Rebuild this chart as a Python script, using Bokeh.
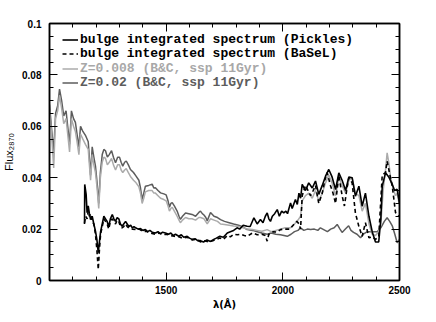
from bokeh.plotting import figure
from bokeh.models import (FixedTicker, LinearAxis, Legend, LegendItem, Range1d,
                          NumeralTickFormatter)
from bokeh.embed import file_html
from bokeh.resources import INLINE

# ---------------- data ----------------
lam_z02 = [1000, 1008, 1018, 1026, 1035, 1043, 1052, 1061, 1071, 1078, 1086, 1094, 1103, 1111,
           1118, 1126, 1133, 1143, 1154, 1166, 1176, 1183, 1190, 1197, 1204, 1211, 1218, 1226,
           1233, 1240, 1248, 1256, 1266, 1274, 1283, 1292, 1300, 1307, 1314, 1322, 1329, 1338,
           1347, 1360, 1371, 1383, 1390, 1397, 1404, 1411, 1425, 1440, 1447, 1454, 1465, 1476,
           1490, 1500, 1508, 1514, 1520, 1526, 1535, 1547, 1555, 1561, 1570, 1583, 1597, 1611,
           1626, 1640, 1647, 1655, 1662, 1670, 1676, 1690, 1705, 1720, 1733, 1750, 1770, 1789,
           1810, 1830, 1847, 1870, 1890, 1910, 1933, 1950, 1970, 1990, 2005, 2019, 2035, 2050,
           2065, 2076, 2090, 2105, 2119, 2135, 2150, 2161, 2175, 2191, 2205, 2220, 2233, 2245,
           2254, 2268, 2282, 2292, 2303, 2318, 2333, 2345, 2362, 2380, 2395, 2404, 2420, 2435,
           2447, 2458, 2469, 2480, 2490, 2500]
flux_z02 = [0.0685, 0.060, 0.050, 0.065, 0.068, 0.0745, 0.070, 0.064, 0.066, 0.060, 0.053, 0.066,
            0.063, 0.0615, 0.057, 0.052, 0.060, 0.058, 0.0565, 0.054, 0.041, 0.052, 0.048, 0.0445,
            0.038, 0.030, 0.042, 0.049, 0.051, 0.0505, 0.048, 0.049, 0.0505, 0.048, 0.0458, 0.048,
            0.048, 0.046, 0.0445, 0.046, 0.0465, 0.045, 0.0432, 0.042, 0.0406, 0.039, 0.036, 0.0315,
            0.034, 0.0367, 0.037, 0.0375, 0.036, 0.0361, 0.035, 0.0341, 0.0337, 0.0333, 0.031,
            0.0285, 0.030, 0.0303, 0.029, 0.027, 0.025, 0.0238, 0.025, 0.0263, 0.026, 0.0257,
            0.025, 0.0265, 0.027, 0.026, 0.0255, 0.0245, 0.0232, 0.0265, 0.025, 0.0245, 0.0237,
            0.023, 0.0225, 0.022, 0.0215, 0.0208, 0.0198, 0.0195, 0.019, 0.0185, 0.018, 0.0185,
            0.018, 0.0178, 0.0175, 0.0172, 0.018, 0.019, 0.0195, 0.0205, 0.0195, 0.020, 0.0198,
            0.020, 0.0195, 0.0205, 0.0198, 0.019, 0.020, 0.0205, 0.0218, 0.020, 0.0187, 0.020,
            0.0213, 0.0195, 0.0187, 0.018, 0.0166, 0.018, 0.019, 0.019, 0.019, 0.019, 0.0205,
            0.023, 0.0244, 0.023, 0.0213, 0.018, 0.0147, 0.016]

lam_z008 = [1000, 1008, 1018, 1026, 1035, 1043, 1052, 1061, 1071, 1078, 1086, 1094, 1103, 1111,
            1118, 1126, 1133, 1143, 1154, 1166, 1176, 1183, 1190, 1197, 1204, 1211, 1218, 1226,
            1233, 1240, 1248, 1256, 1266, 1274, 1283, 1292, 1300, 1307, 1314, 1322, 1329, 1338,
            1347, 1360, 1371, 1383, 1390, 1397, 1404, 1411, 1425, 1440, 1447, 1454, 1465, 1476,
            1490, 1500, 1508, 1514, 1520, 1526, 1535, 1547, 1555, 1561, 1570, 1583, 1597, 1611,
            1626, 1640, 1647, 1662, 1676, 1690, 1705, 1720, 1733, 1750, 1770, 1789, 1810, 1830,
            1847, 1870, 1890, 1910, 1933, 1950, 1970, 1990, 2010, 2033, 2050, 2065, 2076, 2083,
            2097, 2111, 2126, 2140, 2154, 2169, 2183, 2197, 2211, 2226, 2240, 2254, 2269, 2283,
            2297, 2311, 2326, 2340, 2354, 2369, 2383, 2397, 2411, 2420, 2430, 2440, 2447, 2454,
            2462, 2472, 2483, 2490, 2500]
flux_z008 = [0.066, 0.058, 0.0438, 0.063, 0.066, 0.072, 0.067, 0.061, 0.063, 0.057, 0.050, 0.063,
             0.060, 0.058, 0.054, 0.049, 0.057, 0.055, 0.053, 0.051, 0.039, 0.049, 0.045, 0.042,
             0.036, 0.028, 0.040, 0.046, 0.048, 0.0475, 0.045, 0.046, 0.0475, 0.045, 0.043, 0.045,
             0.045, 0.043, 0.042, 0.043, 0.0435, 0.042, 0.0405, 0.039, 0.038, 0.0365, 0.034, 0.030,
             0.032, 0.0345, 0.035, 0.035, 0.034, 0.034, 0.033, 0.032, 0.0315, 0.031, 0.029, 0.027,
             0.028, 0.0285, 0.027, 0.025, 0.0235, 0.0225, 0.0235, 0.0245, 0.024, 0.024, 0.0235,
             0.0245, 0.0245, 0.024, 0.022, 0.024, 0.0235, 0.023, 0.022, 0.0218, 0.0215, 0.0212,
             0.021, 0.0205, 0.020, 0.0198, 0.0195, 0.0192, 0.0198, 0.019, 0.0195, 0.020, 0.0205,
             0.0205, 0.022, 0.0235, 0.025, 0.031, 0.033, 0.034, 0.032, 0.035, 0.031, 0.034, 0.038,
             0.041, 0.038, 0.033, 0.040, 0.037, 0.034, 0.039, 0.040, 0.034, 0.033, 0.027, 0.030,
             0.022, 0.018, 0.0175, 0.019, 0.022, 0.035, 0.043, 0.0497, 0.046, 0.040, 0.036, 0.033,
             0.034, 0.029]

lam_pickles = [1150, 1151, 1157, 1161, 1166, 1171, 1176, 1183, 1190, 1197, 1203, 1209, 1214, 1219,
               1226, 1233, 1240, 1247, 1254, 1261, 1269, 1276, 1283, 1290, 1297, 1304, 1311, 1318,
               1326, 1333, 1340, 1348, 1355, 1362, 1369, 1380, 1390, 1400, 1411, 1420, 1430, 1440,
               1454, 1465, 1475, 1485, 1497, 1510, 1520, 1530, 1540, 1554, 1565, 1575, 1590, 1600,
               1611, 1625, 1635, 1647, 1660, 1675, 1690, 1704, 1715, 1730, 1745, 1762, 1775, 1789,
               1804, 1815, 1830, 1847, 1860, 1876, 1890, 1904, 1915, 1925, 1933, 1940, 1947, 1955,
               1965, 1976, 1985, 1995, 2004, 2013, 2020, 2033, 2040, 2054, 2062, 2069, 2076, 2083,
               2097, 2111, 2126, 2140, 2154, 2169, 2183, 2197, 2211, 2226, 2240, 2254, 2269, 2283,
               2297, 2311, 2326, 2340, 2354, 2369, 2383, 2397, 2411, 2420, 2426, 2440, 2454, 2469,
               2479, 2490, 2500]
flux_pickles = [0.022, 0.0374, 0.0335, 0.0264, 0.029, 0.026, 0.0237, 0.025, 0.022, 0.0192, 0.016,
                0.0108, 0.015, 0.019, 0.022, 0.025, 0.024, 0.023, 0.021, 0.024, 0.0257, 0.024,
                0.023, 0.0245, 0.024, 0.022, 0.0211, 0.022, 0.023, 0.022, 0.021, 0.0215, 0.0205,
                0.021, 0.0205, 0.020, 0.0202, 0.0195, 0.0198, 0.019, 0.0195, 0.0188, 0.0185, 0.019,
                0.0182, 0.0188, 0.0185, 0.018, 0.0185, 0.0175, 0.018, 0.0172, 0.0178, 0.0168, 0.0172,
                0.0165, 0.016, 0.0162, 0.0155, 0.0155, 0.015, 0.0158, 0.0152, 0.016, 0.0165, 0.0172,
                0.0168, 0.0185, 0.019, 0.0195, 0.0205, 0.020, 0.0215, 0.0211, 0.021, 0.0244, 0.022,
                0.0237, 0.0225, 0.025, 0.0263, 0.024, 0.023, 0.025, 0.026, 0.0276, 0.025, 0.027,
                0.0263, 0.027, 0.026, 0.0302, 0.028, 0.0315, 0.0296, 0.034, 0.032, 0.0374, 0.035,
                0.038, 0.036, 0.0387, 0.0335, 0.037, 0.0406, 0.0432, 0.0403, 0.0354, 0.0419, 0.039,
                0.035, 0.0403, 0.040, 0.0328, 0.0367, 0.0289, 0.034, 0.025, 0.019, 0.015, 0.015,
                0.024, 0.0367, 0.0419, 0.0403, 0.0374, 0.035, 0.0355, 0.030]

lam_basel = [1150, 1155, 1161, 1166, 1171, 1176, 1183, 1190, 1197, 1203, 1209, 1214, 1219, 1226,
             1233, 1240, 1247, 1254, 1261, 1269, 1276, 1283, 1290, 1297, 1304, 1311, 1318, 1326,
             1333, 1340, 1355, 1370, 1385, 1400, 1415, 1430, 1454, 1470, 1485, 1500, 1520, 1535,
             1554, 1570, 1590, 1611, 1630, 1647, 1665, 1680, 1700, 1715, 1730, 1745, 1762, 1775,
             1789, 1805, 1820, 1835, 1847, 1870, 1890, 1910, 1925, 1933, 1940, 1960, 1975, 1990,
             2010, 2030, 2047, 2060, 2070, 2076, 2083, 2097, 2108, 2119, 2130, 2140, 2154, 2169,
             2180, 2190, 2204, 2215, 2226, 2240, 2254, 2264, 2275, 2283, 2297, 2311, 2326, 2340,
             2354, 2369, 2383, 2397, 2411, 2426, 2440, 2447, 2459, 2469, 2483, 2497]
flux_basel = [0.0224, 0.025, 0.024, 0.027, 0.025, 0.026, 0.023, 0.022, 0.018, 0.012, 0.0043,
              0.012, 0.018, 0.021, 0.024, 0.023, 0.022, 0.020, 0.023, 0.024, 0.023, 0.022, 0.0235,
              0.023, 0.021, 0.0205, 0.021, 0.022, 0.021, 0.0205, 0.020, 0.0198, 0.020, 0.019,
              0.0192, 0.0185, 0.018, 0.0185, 0.0178, 0.018, 0.0175, 0.0172, 0.017, 0.0165, 0.0168,
              0.0158, 0.016, 0.015, 0.0155, 0.015, 0.0155, 0.016, 0.0165, 0.016, 0.0175, 0.017,
              0.018, 0.0178, 0.018, 0.0175, 0.0172, 0.0185, 0.0178, 0.018, 0.0175, 0.0153, 0.018,
              0.019, 0.0188, 0.0198, 0.020, 0.020, 0.0218, 0.023, 0.022, 0.020, 0.033, 0.037,
              0.035, 0.033, 0.035, 0.037, 0.030, 0.034, 0.039, 0.042, 0.037, 0.034, 0.030, 0.041,
              0.033, 0.029, 0.036, 0.040, 0.038, 0.0263, 0.021, 0.0172, 0.0225, 0.0166, 0.017,
              0.016, 0.017, 0.041, 0.042, 0.0464, 0.041, 0.0367, 0.0264, 0.025]

x_ticks = [1000, 1500, 2000, 2500]
y_ticks = [0, 0.02, 0.04, 0.06, 0.08, 0.1]
x_minor = list(range(1000, 2501, 100))
y_minor = [i * 0.005 for i in range(21)]

labels = ["bulge integrated spectrum (Pickles)",
          "bulge integrated spectrum (BaSeL)",
          "Z=0.008 (B&C, ssp 11Gyr)",
          "Z=0.02 (B&C, ssp 11Gyr)"]

# ---------------- figure ----------------
p = figure(width=420, height=313, output_backend="svg", toolbar_location=None,
           x_range=Range1d(1000, 2500), y_range=Range1d(0, 0.1),
           min_border_left=41, min_border_right=21, min_border_top=23, min_border_bottom=33)
p.grid.visible = False
p.outline_line_color = "black"
p.outline_line_width = 1.5
p.background_fill_color = "white"
p.border_fill_color = "white"

bottom = p.below[0]
left = p.left[0]
top = LinearAxis()
right = LinearAxis()
p.add_layout(top, "above")
p.add_layout(right, "right")


def style(ax, ticks, minor, show_labels):
    ax.ticker = FixedTicker(ticks=ticks, minor_ticks=minor)
    ax.major_tick_in = 8
    ax.major_tick_out = 0
    ax.minor_tick_in = 4
    ax.minor_tick_out = 0
    ax.axis_line_color = "black"
    ax.axis_line_width = 1.5
    ax.major_tick_line_color = "black"
    ax.minor_tick_line_color = "black"
    ax.major_tick_line_width = 1
    ax.minor_tick_line_width = 1
    ax.major_label_text_font = "Liberation Sans"
    ax.major_label_text_font_style = "bold"
    ax.major_label_text_font_size = "10px"
    ax.major_label_text_color = "black"
    if not show_labels:
        ax.major_label_overrides = {t: "" for t in ticks}
        ax.major_label_standoff = 0


style(bottom, x_ticks, x_minor, True)
style(left, y_ticks, y_minor, True)
style(top, x_ticks, x_minor, False)
style(right, y_ticks, y_minor, False)

bottom.major_label_overrides = {1000: ""}
bottom.major_label_standoff = 5
bottom.axis_label = "λ(Å)"
bottom.axis_label_standoff = 2
bottom.axis_label_text_font = "DejaVu Sans"
bottom.axis_label_text_font_style = "bold"
bottom.axis_label_text_font_size = "10px"
bottom.axis_label_text_color = "black"

left.formatter = NumeralTickFormatter(format="0.[00]")
left.major_label_standoff = 8
left.axis_label = "Flux₂₈₇₀"
left.axis_label_standoff = 4
left.axis_label_text_font = "Liberation Sans"
left.axis_label_text_font_style = "normal"
left.axis_label_text_font_size = "11px"
left.axis_label_text_color = "black"

r_z02 = p.line(lam_z02, flux_z02, line_color="#5c5c5c", line_width=1.5)
r_z008 = p.line(lam_z008, flux_z008, line_color="#ababab", line_width=1.5)
r_basel = p.line(lam_basel, flux_basel, line_color="black", line_width=1.6, line_dash="4 3")
r_pick = p.line(lam_pickles, flux_pickles, line_color="black", line_width=1.6)

legend_specs = [(labels[0], r_pick, "black", 233.5),
                (labels[1], r_basel, "black", 219),
                (labels[2], r_z008, "#a8a8a8", 204.5),
                (labels[3], r_z02, "#5c5c5c", 190)]
for lab, rend, col, ypos in legend_specs:
    leg = Legend(items=[LegendItem(label=lab, renderers=[rend])],
                 location=(13, ypos), padding=0, margin=0,
                 border_line_color=None, background_fill_alpha=0,
                 glyph_width=16, glyph_height=13, label_height=13, label_standoff=2,
                 label_text_font="Liberation Mono", label_text_font_style="bold",
                 label_text_font_size="13px", label_text_line_height=1.0,
                 label_text_color=col)
    p.add_layout(leg)

open("out.html", "w").write(file_html(p, INLINE))
